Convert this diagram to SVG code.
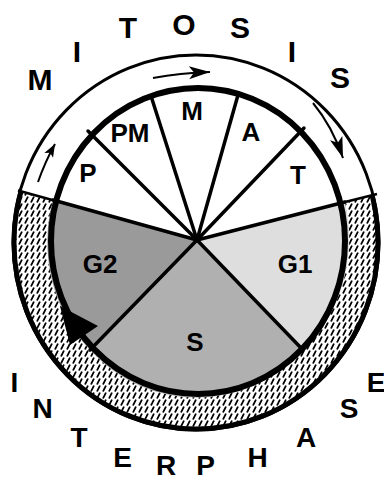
<svg xmlns="http://www.w3.org/2000/svg" width="384" height="482" viewBox="0 0 384 482">
  <style>
    .big { font-family: "Liberation Sans", Arial, sans-serif; font-weight: bold; font-size: 30px; fill: #000; text-anchor: middle; }
    .big2 { font-family: "Liberation Sans", Arial, sans-serif; font-weight: bold; font-size: 28px; fill: #000; text-anchor: middle; }
    .lbl { font-family: "Liberation Sans", Arial, sans-serif; font-weight: bold; font-size: 26px; fill: #000; text-anchor: middle; }
    .div { stroke: #000; stroke-width: 3.5; fill: none; stroke-linecap: round; }
    .edge { stroke: #000; fill: none; }
    .arr { stroke: #000; stroke-width: 2; fill: none; }
  </style>
  <defs>
    <pattern id="hatch" width="6" height="7" patternUnits="userSpaceOnUse">
      <rect width="6" height="7" fill="#fff"/>
      <line x1="1.3" y1="5.8" x2="3.7" y2="1.2" stroke="#000" stroke-width="1.8" stroke-linecap="round"/>
    </pattern>
    <clipPath id="lower">
      <polygon points="197,240 -92,160 -92,500 490,500 488,165"/>
    </clipPath>
    <marker id="head" viewBox="-22 -8 24 16" markerWidth="24" markerHeight="16" refX="0" refY="0" orient="auto" markerUnits="userSpaceOnUse">
      <path d="M0,0 L-21,-6.5 L-16,0 L-21,6.5 Z" fill="#000"/>
    </marker>
    <marker id="headS" viewBox="-14 -6 16 12" markerWidth="16" markerHeight="12" refX="0" refY="0" orient="auto" markerUnits="userSpaceOnUse">
      <path d="M0,0 L-13,-5 L-10,0 L-13,5 Z" fill="#000"/>
    </marker>
  </defs>
  <rect width="384" height="482" fill="#fff"/>

  <!-- outer ring -->
  <g id="ring">
    <ellipse cx="196" cy="242.5" rx="183" ry="187.5" fill="url(#hatch)" clip-path="url(#lower)"/>
    <ellipse cx="196" cy="242.5" rx="183" ry="187.5" class="edge" stroke-width="3"/>
    <ellipse cx="196" cy="242.5" rx="182" ry="186.5" class="edge" stroke-width="5" clip-path="url(#lower)"/>
    <line x1="56" y1="201" x2="18" y2="190.5" class="edge" stroke-width="2.5"/>
    <line x1="343" y1="202.5" x2="377" y2="194" class="edge" stroke-width="2.5"/>
  </g>

  <g id="cycle-bg">
    <ellipse cx="198" cy="241" rx="147" ry="153" fill="#fff"/>
  </g>

  <!-- sectors -->
  <g id="G1">
    <path d="M197,240 L345,202 A147 153 0 0 1 303,350 Z" fill="#dedede"/>
    <text class="lbl" x="295" y="273">G1</text>
  </g>
  <g id="S">
    <path d="M197,240 L303,350 A147 153 0 0 1 90,350 Z" fill="#b0b0b0"/>
    <text class="lbl" x="195" y="351">S</text>
  </g>
  <g id="G2">
    <path d="M197,240 L90,350 A147 153 0 0 1 53,200 Z" fill="#9a9a9a"/>
    <text class="lbl" x="100" y="273">G2</text>
  </g>
  <g id="P"><text class="lbl" x="88" y="182">P</text></g>
  <g id="PM"><text class="lbl" x="130" y="142">PM</text></g>
  <g id="M"><text class="lbl" x="192" y="120">M</text></g>
  <g id="A"><text class="lbl" x="251" y="141">A</text></g>
  <g id="T"><text class="lbl" x="298" y="184">T</text></g>

  <g id="dividers">
    <line class="div" x1="197" y1="240" x2="53" y2="200"/>
    <line class="div" x1="197" y1="240" x2="88" y2="131"/>
    <line class="div" x1="197" y1="240" x2="151" y2="96"/>
    <line class="div" x1="197" y1="240" x2="238" y2="95"/>
    <line class="div" x1="197" y1="240" x2="304" y2="128"/>
    <line class="div" x1="197" y1="240" x2="345" y2="202"/>
    <line class="div" x1="197" y1="240" x2="303" y2="350"/>
    <line class="div" x1="197" y1="240" x2="90" y2="350"/>
  </g>

  <g id="cycle">
    <ellipse cx="198" cy="241" rx="147" ry="153" class="edge" stroke-width="6"/>
  </g>

  <!-- connectors -->
  <g id="connectors">
    <path class="arr" d="M153,78 Q180,73 210,72" marker-end="url(#head)"/>
    <path class="arr" d="M313,103 Q332,126 343,158" marker-end="url(#head)"/>
    <path class="arr" d="M38,182 Q45,162 55,144" marker-end="url(#headS)"/>
    <polygon points="60,306 98,326 70,345" fill="#000"/>
  </g>

  <g id="mitosis">
    <text class="big" x="40" y="90">M</text>
    <text class="big" x="77" y="62">I</text>
    <text class="big" x="128" y="38">T</text>
    <text class="big" x="184" y="35">O</text>
    <text class="big" x="240" y="38">S</text>
    <text class="big" x="292" y="62">I</text>
    <text class="big" x="340" y="88">S</text>
  </g>
  <g id="interphase">
    <text class="big2" x="14.5" y="392">I</text>
    <text class="big2" x="42.5" y="418">N</text>
    <text class="big2" x="79" y="447">T</text>
    <text class="big2" x="122.5" y="467">E</text>
    <text class="big2" x="166" y="475">R</text>
    <text class="big2" x="205.5" y="475">P</text>
    <text class="big2" x="257.5" y="467">H</text>
    <text class="big2" x="306" y="447">A</text>
    <text class="big2" x="349" y="418">S</text>
    <text class="big2" x="376" y="392">E</text>
  </g>
</svg>
